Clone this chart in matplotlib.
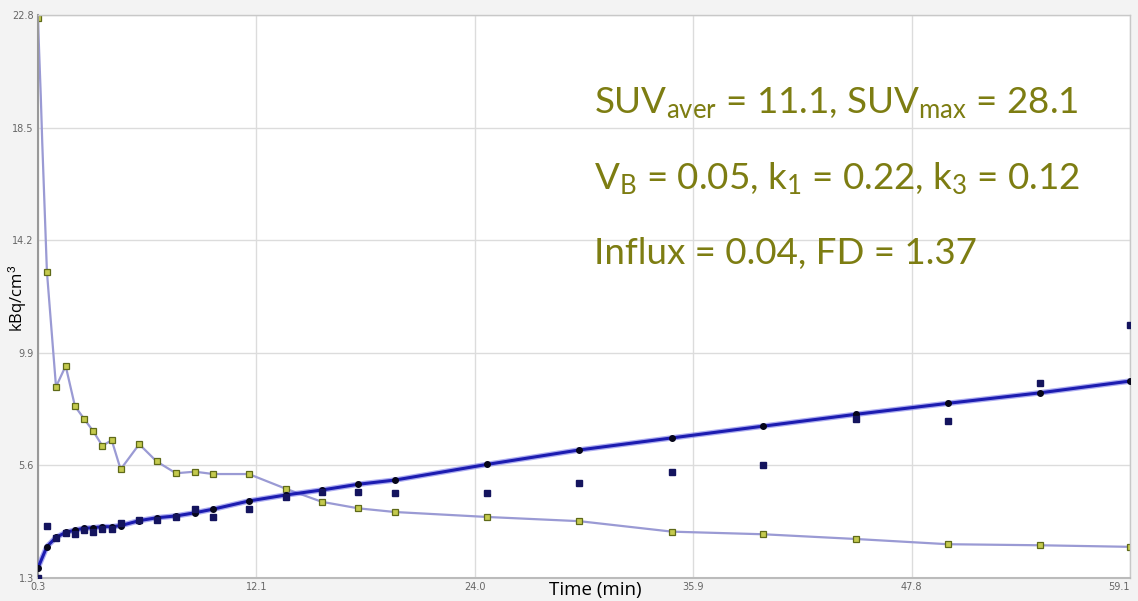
import matplotlib
matplotlib.use("Agg")
import matplotlib.pyplot as plt
import numpy as np

plt.rcParams['mathtext.fontset'] = 'custom'
plt.rcParams['mathtext.rm'] = 'Lato'
plt.rcParams['mathtext.it'] = 'Lato'

# ---- data ----
frame_t = [0.3, 0.78, 1.27, 1.79, 2.29, 2.78, 3.28, 3.76, 4.27, 4.75, 5.75, 6.69,
           7.73, 8.74, 9.74, 11.65, 13.64, 15.58, 17.55, 19.52, 24.5, 29.45,
           34.44, 39.36, 44.33, 49.29, 54.24, 59.1]
blood_t = [0.3, 0.32, 0.45, 0.53, 0.78, 1.27, 1.79, 2.29, 2.78, 3.28, 3.76, 4.27,
           4.75, 5.75, 6.69, 7.73, 8.74, 9.74, 11.65, 13.64, 15.58, 17.55, 19.52,
           24.5, 29.45, 34.44, 39.36, 44.33, 49.29, 54.24, 59.1]
blood_v = [22.7, 22.2, 19.7, 17.9, 13.0, 8.6, 9.4, 7.86, 7.38, 6.9, 6.35, 6.56,
           5.45, 6.41, 5.75, 5.3, 5.36, 5.27, 5.27, 4.71, 4.21, 3.96, 3.82,
           3.63, 3.47, 3.07, 2.97, 2.79, 2.59, 2.55, 2.49]
blood_marked = [0] + list(range(4, 31))
fit_v = [1.69, 2.5, 2.85, 3.04, 3.13, 3.2, 3.22, 3.26, 3.26, 3.30, 3.49, 3.6,
         3.67, 3.79, 3.93, 4.24, 4.47, 4.66, 4.88, 5.04, 5.64, 6.19,
         6.65, 7.1, 7.55, 7.97, 8.37, 8.82]
tissue_v = [1.3, 3.28, 2.82, 3.0, 2.98, 3.13, 3.04, 3.16, 3.16, 3.41, 3.51, 3.51,
            3.64, 3.92, 3.62, 3.92, 4.38, 4.59, 4.59, 4.56, 4.53, 4.91,
            5.36, 5.61, 7.36, 7.3, 8.73, 10.98]
xtick_labels = ['0.3', '12.1', '24.0', '35.9', '47.8', '59.1']
ytick_labels = ['1.3', '5.6', '9.9', '14.2', '18.5', '22.8']
annot_lines = [r'SUV$_{\mathrm{aver}}$ = 11.1, SUV$_{\mathrm{max}}$ = 28.1',
               r'V$_{\mathrm{B}}$ = 0.05, k$_{\mathrm{1}}$ = 0.22, k$_{\mathrm{3}}$ = 0.12',
               'Influx = 0.04, FD = 1.37']

fig = plt.figure(figsize=(11.38, 6.01), dpi=100, facecolor='#f3f3f3')
ax = fig.add_axes([38/1138, 1-578/601, (1130-38)/1138, (578-15)/601])
ax.set_facecolor('white')
ax.set_xlim(0.3, 59.1)
ax.set_ylim(1.3, 22.8)

ax.grid(True, color='#dcdcdc', linewidth=1.0, zorder=0)
ax.set_axisbelow(True)

# blood curve
ax.plot(blood_t, blood_v, color='#9a9ad4', linewidth=1.6, zorder=2,
        marker='s', markevery=blood_marked, markersize=4.5,
        markerfacecolor='#c4ca4e', markeredgecolor='#5f6a18', markeredgewidth=0.9)
# fitted tissue curve
ax.plot(frame_t, fit_v, color='#6a6ae6', linewidth=4.0, alpha=0.55, zorder=3)
ax.plot(frame_t, fit_v, color='#1c1cb0', linewidth=2.2, zorder=4,
        marker='o', markersize=4, markerfacecolor='#06061a', markeredgecolor='#06061a')
# measured tissue
ax.plot(frame_t, tissue_v, linestyle='none', marker='s', markersize=4.5,
        color='#14145e', zorder=5)

ax.set_xticks(np.linspace(0.3, 59.1, len(xtick_labels)))
ax.set_xticklabels(xtick_labels)
ax.set_yticks(np.linspace(1.3, 22.8, len(ytick_labels)))
ax.set_yticklabels(ytick_labels)
ax.tick_params(axis='both', labelsize=7, length=0, pad=3)
for lab in ax.get_yticklabels() + ax.get_xticklabels():
    lab.set_color('#666666')
ax.get_xticklabels()[-1].set_horizontalalignment('right')

for s in ['top', 'right']:
    ax.spines[s].set_color('#c8c8c8')
    ax.spines[s].set_linewidth(1.0)
ax.spines['left'].set_color('#999999')
ax.spines['left'].set_linewidth(1.5)
ax.spines['bottom'].set_color('#bbbbbb')
ax.spines['bottom'].set_linewidth(1.5)

fig.text(595/1138, 1-590/601, 'Time (min)', ha='center', va='center',
         fontsize=13.5, family='Open Sans', color='black')
fig.text(17/1138, 1-298/601, 'kBq/cm$^{3}$', ha='center', va='center',
         rotation=90, fontsize=12, family='Open Sans', color='black')

ys = [113, 189, 264]
for txt, yp in zip(annot_lines, ys):
    fig.text(594/1138, 1-yp/601, txt, ha='left', va='baseline', fontsize=26.5,
             family='Lato', color='#7d7d12')

fig.savefig('out.png', dpi=100, facecolor=fig.get_facecolor())
